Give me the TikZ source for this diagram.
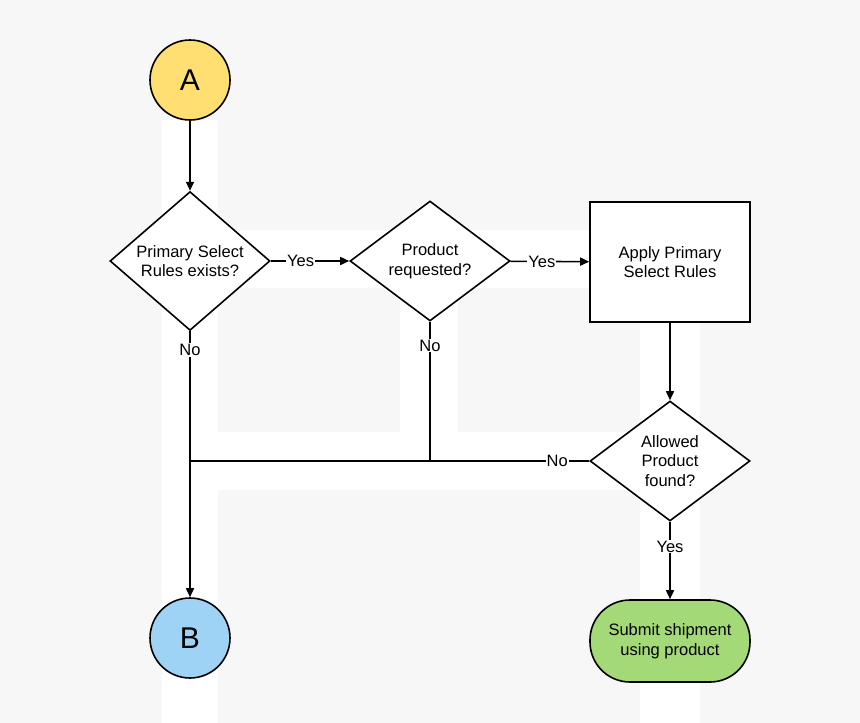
\documentclass[tikz,border=0pt]{standalone}
\usepackage{fontspec}
\setmainfont{Liberation Sans}
\usetikzlibrary{shapes.geometric,arrows.meta}
\definecolor{bg}{HTML}{F7F7F7}
\begin{document}
\begin{tikzpicture}[x=1pt,y=-1pt,
  every node/.style={font=\fontsize{16.5}{19.5}\selectfont, align=center},
  ln/.style={line width=1.6pt},
  ar/.style={ln,-{Triangle[length=9pt,width=8pt]}},
  dia/.style={diamond,draw,line width=1.6pt,fill=white,minimum width=160pt,minimum height=120pt,inner sep=0pt},
  circ/.style={circle,draw,line width=1.6pt,minimum size=80pt,inner sep=0pt,font=\fontsize{30}{30}\selectfont},
  lab/.style={fill=white,inner sep=1pt}]
\fill[bg] (0,0) rectangle (860,723);
\fill[white] (162,120) rectangle (218,723);
\fill[white] (162,230) rectangle (590,288);
\fill[white] (400,230) rectangle (458,432);
\fill[white] (162,432) rectangle (700,490);
\fill[white] (640,300) rectangle (700,723);
\node[circ,fill={rgb,255:red,255;green,223;blue,113}] (A) at (190,80) {A};
\node[dia] (d1) at (190,261) {Primary Select\\Rules exists?};
\node[dia] (d2) at (430,261) {Product\\requested?};
\node[draw,line width=1.6pt,fill=white,minimum width=160pt,minimum height=120pt] (box) at (670,262) {Apply Primary\\Select Rules};
\node[dia] (d3) at (670,461) {Allowed\\Product\\found?};
\node[circ,fill={rgb,255:red,159;green,211;blue,245}] (B) at (190,638) {B};
\node[draw,line width=1.6pt,rounded corners=40pt,fill={rgb,255:red,163;green,217;blue,119},minimum width=160pt,minimum height=82pt] (g) at (670,641) {Submit shipment\\using product};
\coordinate (j1) at (190,461);
\coordinate (j2) at (430,461);
\draw[ar] (A) -- (d1);
\draw[ar] (d1) -- node[lab,pos=0.38]{Yes} (d2);
\draw[ar] (d2) -- node[lab,pos=0.4]{Yes} (box);
\draw[ar] (box) -- (d3);
\draw[ar] (d3) -- node[lab,pos=0.32]{Yes} (g);
\draw[ar] (d1) -- node[lab,pos=0.07]{No} (B);
\draw[ln] (d2.south) -- node[lab,pos=0.17]{No} (j2);
\draw[ln] (d3.west) -- node[lab,pos=0.08]{No} (j1);
\end{tikzpicture}
\end{document}
